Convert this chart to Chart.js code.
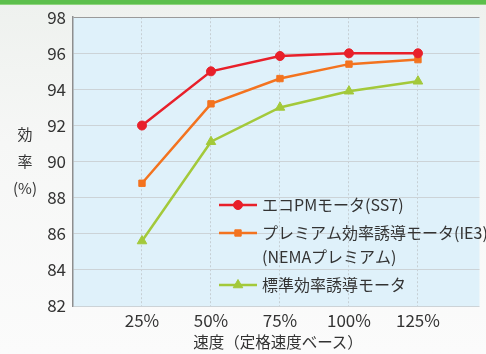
<!DOCTYPE html>
<html>
<head>
<meta charset="utf-8">
<script src="https://cdn.jsdelivr.net/npm/chart.js@4/dist/chart.umd.min.js"></script>
<style>
  html, body {
    margin: 0;
    padding: 0;
    width: 486px;
    height: 354px;
    overflow: hidden;
    font-family: 'Noto Sans CJK JP', 'Noto Sans', sans-serif;
  }
  body {
    background: linear-gradient(180deg, #eef1ee 0%, #f6f7f6 40%, #fbfbfb 100%);
    position: relative;
  }
  .top-band {
    position: absolute;
    left: 0; top: 0;
    width: 486px; height: 4px;
    background: #5cbf4c;
    border-bottom: 1px solid #8fd37f;
  }
  .wrap {
    position: absolute;
    left: 0; top: 0;
    width: 486px; height: 354px;
  }
  .y-title {
    position: absolute;
    left: 10px; top: 120px;
    width: 30px;
    text-align: center;
    font-size: 15px;
    line-height: 27px;
    color: #333;
  }
  .x-title {
    position: absolute;
    left: 73px; top: 330px;
    width: 410px;
    text-align: center;
    font-size: 15.5px;
    color: #333;
  }
</style>
</head>
<body>
<div class="top-band"></div>
<div class="wrap"><canvas id="effChart" width="486" height="354"></canvas></div>
<div class="y-title">効<br>率<br>(%)</div>
<div class="x-title">速度（定格速度ベース）</div>

<script>
'use strict';

// Data
const speeds = [25, 50, 75, 100, 125];
const ecoPM = [92.0, 95.0, 95.85, 96.0, 96.0];
const premium = [88.8, 93.2, 94.6, 95.4, 95.65];
const standard = [85.6, 91.1, 93.0, 93.9, 94.45];

const seriesLabels = [
    ['エコPMモータ(SS7)'],
    ['プレミアム効率誘導モータ(IE3)', '(NEMAプレミアム)'],
    ['標準効率誘導モータ']
];

const yMin = 82;
const yMax = 98;
const yStep = 2;
const xMax = 147.3;

const toPoints = (vals) => vals.map((v, i) => ({ x: speeds[i], y: v }));

// Light blue plot background
const plotBackground = {
    id: 'plotBackground',
    beforeDraw(chart) {
        const { ctx, chartArea } = chart;
        ctx.save();
        ctx.fillStyle = '#dff1fa';
        ctx.fillRect(chartArea.left, chartArea.top, chartArea.right - chartArea.left, chartArea.bottom - chartArea.top);
        ctx.restore();
    }
};

// Legend drawn inside the plot area
const innerLegend = {
    id: 'innerLegend',
    afterDraw(chart) {
        const ctx = chart.ctx;
        const x0 = 219;
        const x1 = 257;
        const textX = 262;
        const rows = [205, 233, 285];
        ctx.save();
        chart.data.datasets.forEach((ds, i) => {
            const y = rows[i];
            ctx.strokeStyle = ds.borderColor;
            ctx.fillStyle = ds.borderColor;
            ctx.lineWidth = 2.5;
            ctx.beginPath();
            ctx.moveTo(x0, y);
            ctx.lineTo(x1, y);
            ctx.stroke();
            ctx.lineWidth = 1;
            Chart.helpers.drawPoint(ctx, {
                pointStyle: ds.pointStyle,
                radius: ds.pointRadius,
                borderWidth: 1
            }, (x0 + x1) / 2, y);
            ctx.fillStyle = '#333';
            ctx.font = "16px 'Noto Sans CJK JP'";
            ctx.textBaseline = 'middle';
            ds.legendLines.forEach((line, j) => {
                ctx.fillText(line, textX, y + j * 24);
            });
        });
        ctx.restore();
    }
};

function makeDataset(idx, data, color, style, radius) {
    return {
        label: seriesLabels[idx].join(' '),
        legendLines: seriesLabels[idx],
        data: toPoints(data),
        borderColor: color,
        backgroundColor: color,
        pointBackgroundColor: color,
        pointBorderColor: color,
        borderWidth: 2.5,
        pointStyle: style,
        pointRadius: radius,
        pointBorderWidth: 1,
        tension: 0
    };
}

function init() {
    const ctx = document.getElementById('effChart');
    new Chart(ctx, {
        type: 'line',
        data: {
            datasets: [
                makeDataset(0, ecoPM, '#e8202a', 'circle', 4.5),
                makeDataset(1, premium, '#f3731f', 'rect', 4.5),
                makeDataset(2, standard, '#a3c93a', 'triangle', 5.5)
            ]
        },
        options: {
            responsive: false,
            animation: false,
            layout: {
                padding: { left: 0, top: 16, right: 0, bottom: 0 }
            },
            plugins: {
                legend: { display: false },
                tooltip: { enabled: false }
            },
            scales: {
                x: {
                    type: 'linear',
                    min: 0,
                    max: xMax,
                    afterBuildTicks(scale) {
                        scale.ticks = speeds.map(v => ({ value: v }));
                    },
                    afterFit(scale) {
                        scale.height = 48;
                    },
                    ticks: {
                        color: '#333',
                        font: { size: 17, family: "'Noto Sans CJK JP'" },
                        padding: 4,
                        callback: (v) => v + '%'
                    },
                    grid: {
                        color: '#c6cfd4',
                        lineWidth: 1,
                        drawTicks: false
                    },
                    border: {
                        display: false,
                        dash: [2, 2]
                    }
                },
                y: {
                    min: yMin,
                    max: yMax,
                    afterFit(scale) {
                        scale.width = 73;
                    },
                    ticks: {
                        stepSize: yStep,
                        color: '#333',
                        font: { size: 17, family: "'Noto Sans CJK JP'" },
                        padding: 7
                    },
                    grid: {
                        color: (c) => c.tick && c.tick.value === yMax ? '#9a9a9a' : '#ccd3d7',
                        lineWidth: 1,
                        drawTicks: false
                    },
                    border: {
                        display: true,
                        color: '#8e8e8e',
                        width: 1.5
                    }
                }
            }
        },
        plugins: [plotBackground, innerLegend]
    });
}

init();
</script>
</body>
</html>
